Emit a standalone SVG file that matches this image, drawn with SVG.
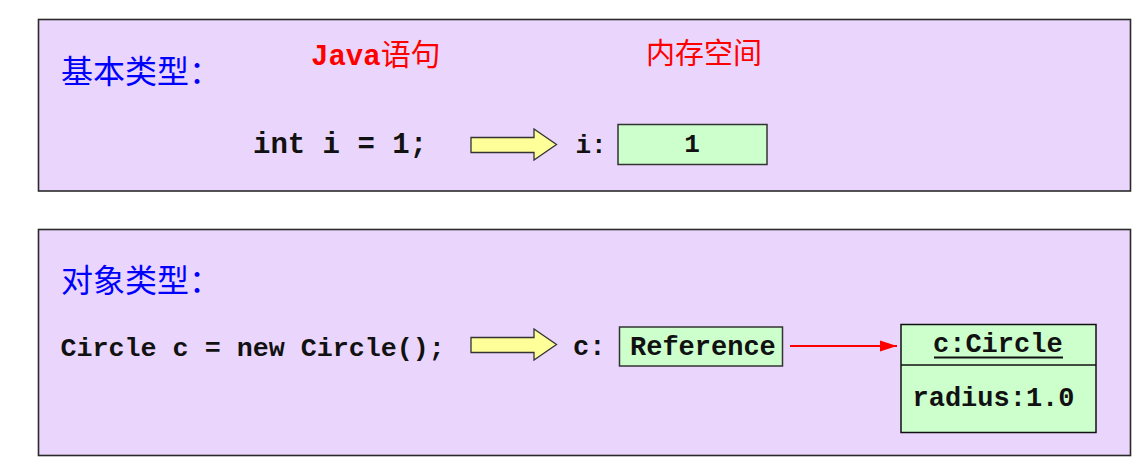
<svg xmlns="http://www.w3.org/2000/svg" width="1147" height="463" viewBox="0 0 1147 463">
<style>
.panel{fill:#EAD6FC;stroke:#2a2a2a;stroke-width:1.6}
.cn{font-family:"Noto Sans CJK SC",sans-serif}
.blue{fill:#0000FF;font-size:32px}
.red{fill:#FF0000}
.code{font-family:"Liberation Mono","Courier New",monospace;font-weight:bold;fill:#111}
.arrow{fill:#FFFF99;stroke:#333;stroke-width:1.3}
.cell{fill:#CCFFCC;stroke:#333;stroke-width:1.5}
</style>
<defs>
<marker id="redhead" markerUnits="userSpaceOnUse" markerWidth="18" markerHeight="12" refX="17" refY="6" orient="auto">
<path d="M0,0.5 L17,6 L0,11.5 Z" fill="#FF0000"/>
</marker>
</defs>
<g id="panel-basic">
<rect class="panel" x="38.5" y="19.5" width="1092" height="171.5"/>
<text class="cn blue" x="61" y="83">基本类型：</text>
<text x="311" y="65" fill="#FF0000"><tspan class="code" style="fill:#FF0000" font-size="29">Java</tspan><tspan class="cn" font-size="30">语句</tspan></text>
<text class="cn red" x="646" y="64" font-size="29">内存空间</text>
<text class="code" x="253" y="153" font-size="29">int i = 1;</text>
</g>
<g id="arrow-basic">
<polygon class="arrow" points="471,137.5 534,137.5 534,129 556.5,144.5 534,160 534,152.5 471,152.5"/>
</g>
<g id="var-i">
<text class="code" x="575.5" y="153" font-size="26">i:</text>
<rect class="cell" x="618" y="124.5" width="149" height="40"/>
<text class="code" x="692" y="152" font-size="26" text-anchor="middle">1</text>
</g>
<g id="panel-object">
<rect class="panel" x="38.5" y="229.5" width="1092" height="226"/>
<text class="cn blue" x="61" y="292">对象类型：</text>
<text class="code" x="60.5" y="355.5" font-size="26.7">Circle c = new Circle();</text>
</g>
<g id="arrow-object">
<polygon class="arrow" points="471,337.5 534,337.5 534,329 556.5,344.5 534,360 534,352.5 471,352.5"/>
</g>
<g id="var-c">
<text class="code" x="573" y="355" font-size="27">c:</text>
<rect class="cell" x="619.5" y="327" width="163" height="39"/>
<text class="code" x="630" y="355" font-size="27">Reference</text>
</g>
<g id="obj-circle">
<rect x="901" y="324.5" width="195" height="108" fill="#CCFFCC" stroke="#111" stroke-width="1.5"/>
<line x1="901" y1="365" x2="1096" y2="365" stroke="#111" stroke-width="1.5"/>
<text class="code" x="933" y="351.5" font-size="27">c:Circle</text>
<line x1="934" y1="357.5" x2="1063" y2="357.5" stroke="#111" stroke-width="2"/>
<text class="code" x="912.5" y="405.5" font-size="27">radius:1.0</text>
</g>
<g id="connectors">
<line x1="790" y1="346" x2="897" y2="346" stroke="#FF0000" stroke-width="2" marker-end="url(#redhead)"/>
</g>
</svg>
